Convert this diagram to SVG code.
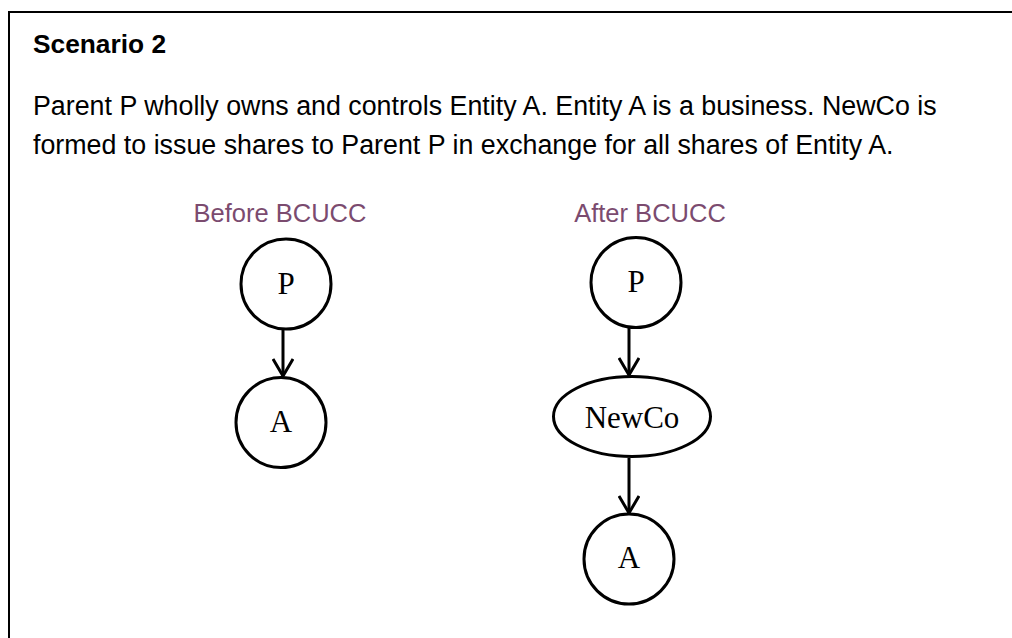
<svg xmlns="http://www.w3.org/2000/svg" width="1012" height="638" viewBox="0 0 1012 638">
<style>
.t{font-family:"Liberation Sans",Arial,sans-serif;font-size:26.8px;fill:#000}
.b{font-weight:bold;font-size:26.3px}
.lab{font-family:"Liberation Sans",Arial,sans-serif;font-size:25.5px;fill:#7B4B6F;text-anchor:middle}
.node{fill:#fff;stroke:#000;stroke-width:3}
.nt{font-family:"Liberation Serif","Times New Roman",serif;font-size:31px;fill:#000;text-anchor:middle}
.edge{stroke:#000;stroke-width:3;fill:none}
</style>
<defs>
<marker id="arr" viewBox="0 0 20 22" refX="18" refY="11" markerWidth="20" markerHeight="22" markerUnits="userSpaceOnUse" orient="auto">
<path d="M1,1 L18,11 L1,21" fill="none" stroke="#000" stroke-width="3" stroke-linejoin="miter"/>
</marker>
</defs>
<rect width="1012" height="638" fill="#fff"/>
<path d="M9,638 V12 H1012" fill="none" stroke="#000" stroke-width="2"/>
<text class="t b" x="33" y="53">Scenario 2</text>
<text class="t" x="33" y="115">Parent P wholly owns and controls Entity A. Entity A is a business. NewCo is</text>
<text class="t" x="33" y="154">formed to issue shares to Parent P in exchange for all shares of Entity A.</text>
<text class="lab" x="280" y="222">Before BCUCC</text>
<text class="lab" x="650" y="222">After BCUCC</text>
<g id="connectors">
<line class="edge" x1="283" y1="329" x2="283" y2="376" marker-end="url(#arr)"/>
<line class="edge" x1="629" y1="328" x2="629" y2="375" marker-end="url(#arr)"/>
<line class="edge" x1="629" y1="458" x2="629" y2="513" marker-end="url(#arr)"/>
</g>
<g id="before-P"><circle class="node" cx="286" cy="284" r="45"/><text class="nt" x="286" y="294">P</text></g>
<g id="before-A"><circle class="node" cx="281" cy="422.5" r="45"/><text class="nt" x="281" y="432">A</text></g>
<g id="after-P"><circle class="node" cx="636" cy="282.5" r="45"/><text class="nt" x="636" y="292">P</text></g>
<g id="after-NewCo"><ellipse class="node" cx="632" cy="416.5" rx="78.5" ry="40"/><text class="nt" x="632" y="428">NewCo</text></g>
<g id="after-A"><circle class="node" cx="629" cy="559" r="45"/><text class="nt" x="629" y="568">A</text></g>
</svg>
